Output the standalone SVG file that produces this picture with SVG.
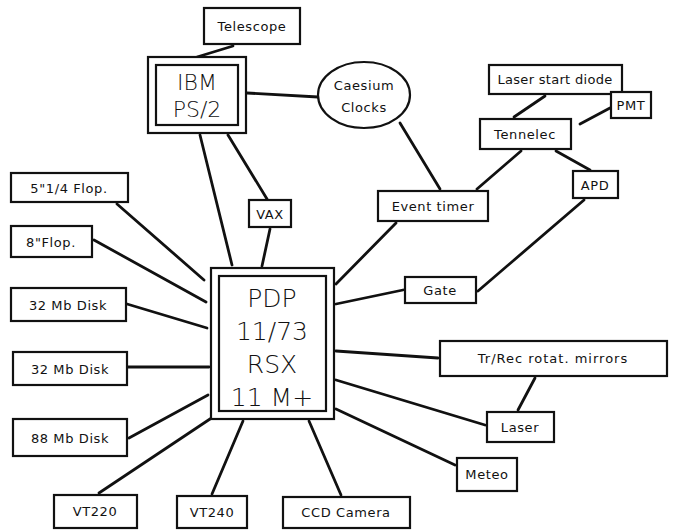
<svg xmlns="http://www.w3.org/2000/svg" width="683" height="531" viewBox="0 0 683 531">
<style>
.box{fill:#fff;stroke:#111;stroke-width:2.2}
.lbl{font-family:"DejaVu Sans",sans-serif;font-size:13px;letter-spacing:0.6px;fill:#111;text-anchor:middle;dominant-baseline:central}
.big{font-family:"DejaVu Sans",sans-serif;font-size:22px;fill:#111;text-anchor:middle;dominant-baseline:central;font-weight:300}
.big2{font-family:"DejaVu Sans",sans-serif;font-size:25px;fill:#111;text-anchor:middle;dominant-baseline:central;font-weight:300}
.con line{stroke:#111;stroke-width:2.8;stroke-linecap:round}
</style>
<rect width="683" height="531" fill="#fff"/>
<g class="con" id="connectors">
<line x1="233" y1="46" x2="197" y2="57"/>
<line x1="247" y1="93" x2="318" y2="97"/>
<line x1="200" y1="135" x2="232" y2="265"/>
<line x1="228" y1="135" x2="267" y2="199"/>
<line x1="270" y1="229" x2="262" y2="266"/>
<line x1="400" y1="123" x2="440" y2="189"/>
<line x1="521" y1="151" x2="477" y2="189"/>
<line x1="545" y1="96" x2="514" y2="117"/>
<line x1="610" y1="108" x2="580" y2="124"/>
<line x1="556" y1="151" x2="590" y2="170"/>
<line x1="584" y1="200" x2="478" y2="291"/>
<line x1="396" y1="223" x2="336" y2="284"/>
<line x1="403" y1="290" x2="336" y2="304"/>
<line x1="438" y1="358" x2="336" y2="351"/>
<line x1="535" y1="378" x2="518" y2="410"/>
<line x1="485" y1="425" x2="336" y2="380"/>
<line x1="455" y1="465" x2="336" y2="409"/>
<line x1="341" y1="495" x2="309" y2="421"/>
<line x1="212" y1="494" x2="243" y2="421"/>
<line x1="99" y1="493" x2="216" y2="415"/>
<line x1="129" y1="438" x2="208" y2="395"/>
<line x1="128" y1="367" x2="209" y2="367"/>
<line x1="127" y1="304" x2="207" y2="328"/>
<line x1="94" y1="240" x2="206" y2="302"/>
<line x1="117" y1="204" x2="204" y2="280"/>
</g>
<g id="telescope"><rect class="box" x="204" y="8" width="96" height="36"/><text class="lbl" x="252" y="26">Telescope</text></g>
<g id="ibm"><rect class="box" x="148" y="57" width="98" height="76"/><rect class="box" x="156" y="65" width="82" height="60"/><text class="big" x="197" y="82">IBM</text><text class="big" x="197" y="109">PS/2</text></g>
<g id="caesium"><ellipse class="box" cx="364" cy="95" rx="46" ry="33"/><text class="lbl" x="364" y="85">Caesium</text><text class="lbl" x="364" y="107">Clocks</text></g>
<g id="laserdiode"><rect class="box" x="489" y="65" width="133" height="29"/><text class="lbl" x="555" y="79" style="letter-spacing:0.3px">Laser start diode</text></g>
<g id="pmt"><rect class="box" x="611" y="92" width="40" height="26"/><text class="lbl" x="631" y="105">PMT</text></g>
<g id="tennelec"><rect class="box" x="480" y="119" width="91" height="30"/><text class="lbl" x="525" y="134">Tennelec</text></g>
<g id="apd"><rect class="box" x="573" y="171" width="45" height="27"/><text class="lbl" x="595" y="185">APD</text></g>
<g id="eventtimer"><rect class="box" x="378" y="191" width="110" height="30"/><text class="lbl" x="433" y="206">Event timer</text></g>
<g id="vax"><rect class="box" x="249" y="200" width="42" height="27"/><text class="lbl" x="270" y="214">VAX</text></g>
<g id="flop514"><rect class="box" x="11" y="173" width="117" height="29"/><text class="lbl" x="69" y="188">5"1/4 Flop.</text></g>
<g id="flop8"><rect class="box" x="11" y="226" width="81" height="31"/><text class="lbl" x="51" y="242">8"Flop.</text></g>
<g id="disk32a"><rect class="box" x="11" y="288" width="115" height="33"/><text class="lbl" x="68" y="305">32 Mb Disk</text></g>
<g id="disk32b"><rect class="box" x="13" y="352" width="114" height="33"/><text class="lbl" x="70" y="369">32 Mb Disk</text></g>
<g id="disk88"><rect class="box" x="13" y="419" width="114" height="37"/><text class="lbl" x="70" y="438">88 Mb Disk</text></g>
<g id="pdp"><rect class="box" x="211" y="268" width="123" height="151"/><rect class="box" x="219" y="276" width="107" height="135"/><text class="big2" x="272" y="298">PDP</text><text class="big2" x="272" y="331">11/73</text><text class="big2" x="272" y="364">RSX</text><text class="big2" x="272" y="397">11 M+</text></g>
<g id="gate"><rect class="box" x="405" y="277" width="71" height="26"/><text class="lbl" x="440" y="290">Gate</text></g>
<g id="trrec"><rect class="box" x="440" y="341" width="227" height="35"/><text class="lbl" x="553" y="358" style="letter-spacing:1px">Tr/Rec rotat. mirrors</text></g>
<g id="laser"><rect class="box" x="487" y="412" width="67" height="30"/><text class="lbl" x="520" y="427">Laser</text></g>
<g id="meteo"><rect class="box" x="457" y="458" width="60" height="33"/><text class="lbl" x="487" y="474">Meteo</text></g>
<g id="ccd"><rect class="box" x="283" y="497" width="127" height="31"/><text class="lbl" x="346" y="512">CCD Camera</text></g>
<g id="vt240"><rect class="box" x="177" y="496" width="70" height="32"/><text class="lbl" x="212" y="512">VT240</text></g>
<g id="vt220"><rect class="box" x="54" y="495" width="83" height="33"/><text class="lbl" x="95" y="511">VT220</text></g>
</svg>
